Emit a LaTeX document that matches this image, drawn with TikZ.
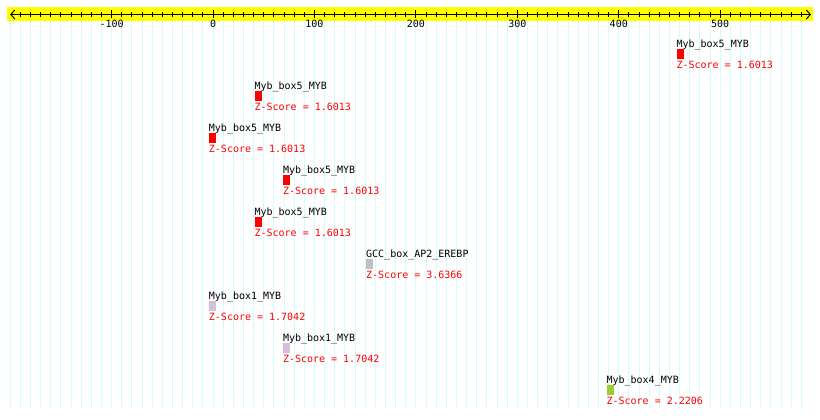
\documentclass[tikz,border=0pt]{standalone}
\usepackage{fontspec}
\setmonofont{DejaVu Sans Mono}
\usetikzlibrary{arrows.meta, positioning}
\definecolor{bandyellow}{HTML}{FFFF00}
\definecolor{gridcyan}{RGB}{212,250,250}
\definecolor{mybred}{HTML}{FF0000}
\definecolor{gccgray}{HTML}{C0C0C0}
\definecolor{mybthistle}{HTML}{D8BFD8}
\definecolor{mybgreen}{HTML}{9ACD32}

\begin{document}
\begin{tikzpicture}[
    x=1.0143pt, y=-1pt,
    every node/.style={font=\fontsize{10}{12}\selectfont\ttfamily, inner sep=0pt, outer sep=0pt},
    site/.style={minimum width=7pt, minimum height=10pt, anchor=north west},
    lbl/.style={text=black},
    score/.style={text=mybred},
    gridline/.style={gridcyan, line width=1pt},
    tick/.style={black, line width=1pt},
    axisline/.style={{Straight Barb[length=4pt, width=9pt]}-{Straight Barb[length=4pt, width=9pt]}, line width=1pt}
]
\useasboundingbox (-210,0) rectangle (598.4,419);

% scale band and grid
\fill[bandyellow] (-203,7) rectangle (591.5,21);
\foreach \v in {-200,-190,...,580}
  \draw[gridline] (\v,21) -- (\v,409);
\draw[axisline] (-200,14.5) -- (589.5,14.5);
\foreach \v in {-190,-180,...,580}
  \draw[tick] (\v,12) -- (\v,17);
\foreach \v [count=\i] in {-100,0,...,500} {
  \draw[tick] (\v,10.5) -- (\v,18.5);
  \node[anchor=base] (tick\i) at (\v,28) {\v};
}

% binding sites
\foreach \n/\u/\c/\t/\z [count=\r from 0] in {
    1/457/mybred/Myb\_box5\_MYB/1.6013,
    2/41/mybred/Myb\_box5\_MYB/1.6013,
    3/-4/mybred/Myb\_box5\_MYB/1.6013,
    4/69/mybred/Myb\_box5\_MYB/1.6013,
    5/41/mybred/Myb\_box5\_MYB/1.6013,
    6/151/gccgray/GCC\_box\_AP2\_EREBP/3.6366,
    7/-4/mybthistle/Myb\_box1\_MYB/1.7042,
    8/69/mybthistle/Myb\_box1\_MYB/1.7042,
    9/388/mybgreen/Myb\_box4\_MYB/2.2206} {
  \node[site, fill=\c] (site\n) at (\u,{49.3+42*\r}) {};
  \node[lbl, above=2pt of site\n.north west, anchor=base west] (lbl\n) {\t};
  \node[score, below=9pt of site\n.south west, anchor=base west] (score\n) {Z-Score = \z};
}
\end{tikzpicture}
\end{document}
